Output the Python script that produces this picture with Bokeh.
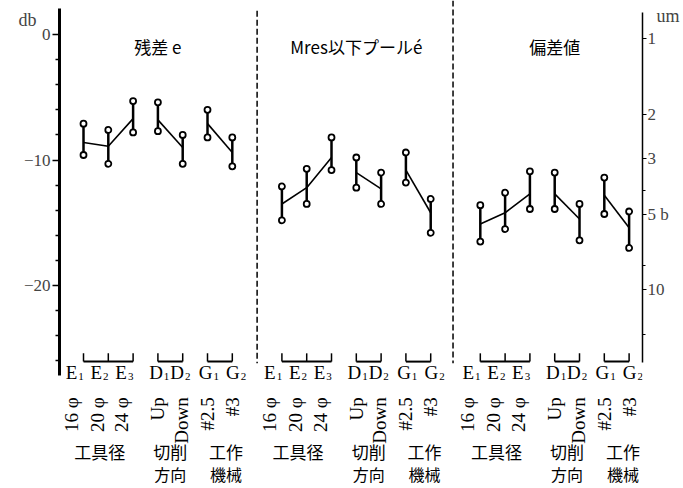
import numpy as np
from bokeh.plotting import figure
from bokeh.models import (Range1d, LogScale, LogAxis, LinearAxis, FixedTicker,
                          BasicTickFormatter)
from bokeh.core.properties import value
from bokeh.embed import file_html
from bokeh.resources import INLINE

# ---------------- data ----------------
panel_titles = ["残差 e", "Mres以下プールé", "偏差値"]
cat_letters = ["E", "E", "E", "D", "D", "G", "G"]
cat_subs = ["1", "2", "3", "1", "2", "1", "2"]
cond_labels = ["16 φ", "20 φ", "24 φ", "Up", "Down", "#2.5", "#3"]
group_members = [[0, 1, 2], [3, 4], [5, 6]]
group_line1 = ["工具径", "切削", "工作"]
group_line2 = ["方向", "機械"]          # second line for groups 2 and 3

# dB values (upper end, lower end, mean) per panel
top_e = [-7.1, -7.6, -5.3, -5.4, -8.0, -6.0, -8.2]
bot_e = [-9.6, -10.3, -7.8, -7.7, -10.3, -8.2, -10.5]
mean_e = [-8.6, -8.9, -6.7, -6.8, -9.0, -7.1, -9.4]

top_pool = [-12.1, -10.7, -8.2, -9.8, -11.0, -9.4, -13.1]
bot_pool = [-14.8, -13.5, -10.8, -12.2, -13.5, -11.8, -15.8]
mean_pool = [-13.5, -12.2, -9.8, -11.0, -12.3, -10.8, -14.2]

top_dev = [-13.6, -12.6, -10.9, -11.0, -13.5, -11.4, -14.1]
bot_dev = [-16.5, -15.5, -13.9, -13.9, -16.4, -14.3, -17.0]
mean_dev = [-15.1, -14.2, -12.7, -12.7, -14.7, -12.8, -15.4]

db_ticks = [0, -10, -20]
db_minor = [-2, -4, -6, -8, -12, -14, -16, -18, -22, -24, -26]
um_ticks = [1, 2, 3, 5, 10]
um_minor = [4, 8, 15]
um_labels = ["1", "2", "3", "5 b", "10"]

tops = [top_e, top_pool, top_dev]
bots = [bot_e, bot_pool, bot_dev]
means = [mean_e, mean_pool, mean_dev]

# ---------------- layout ----------------
W, H = 683, 488
X_START, X_END = -0.968, 22.54
Y_TOP, Y_BOTTOM = 2.71, -36.17
PANEL_STEP = 8
UM_OFFSET = -0.35          # dB = -20 log10(um) + UM_OFFSET
DB_LABEL_Y = 1.12
UM_LABEL_Y = 1.5
letter_shift = [-0.25, -0.25, -0.25, 0.2, 0.05, 0.2, 0.3]
cond_shift = [-0.5, -0.45, -0.45, 0.0, -0.05, 0.0, 0.0]
group_shift = [-0.35, 0.0, 0.25]
SERIF = "Liberation Serif"
CJK = "Noto Sans CJK JP"


def um_of(db):
    return 10 ** ((UM_OFFSET - db) / 20.0)


p = figure(width=W, height=H, output_backend="svg", toolbar_location=None,
           x_range=Range1d(X_START, X_END), y_range=Range1d(Y_BOTTOM, Y_TOP),
           x_axis_location=None, y_axis_location=None,
           min_border_left=59, min_border_right=41,
           min_border_top=0, min_border_bottom=0)
p.grid.visible = False
p.outline_line_color = None
p.background_fill_color = "white"

# left dB axis
yl = LinearAxis(ticker=FixedTicker(ticks=db_ticks, minor_ticks=db_minor),
                bounds=(-27.2, 2.1))
yl.axis_line_width = 3
yl.major_tick_out = 7
yl.major_tick_in = 0
yl.major_tick_line_width = 1.5
yl.minor_tick_out = 4
yl.minor_tick_in = 0
yl.minor_tick_line_width = 1.5
yl.major_label_overrides = {0: "0", -10: "−10", -20: "−20"}
yl.major_label_text_font = SERIF
yl.major_label_text_font_size = "17px"
yl.major_label_standoff = 2
p.add_layout(yl, "left")

# unit caption "db" as an outer label-only axis
yl2 = LinearAxis(ticker=FixedTicker(ticks=[DB_LABEL_Y], minor_ticks=[]))
yl2.axis_line_color = None
yl2.major_tick_line_color = None
yl2.minor_tick_line_color = None
yl2.major_tick_out = 0
yl2.major_label_overrides = {DB_LABEL_Y: "db"}
yl2.major_label_text_font = SERIF
yl2.major_label_text_font_size = "18px"
yl2.major_label_standoff = -16
p.add_layout(yl2, "left")

# right um axis (log)
p.extra_y_ranges = {"um": Range1d(start=um_of(Y_BOTTOM), end=um_of(Y_TOP))}
p.extra_y_scales = {"um": LogScale()}
yr = LogAxis(y_range_name="um",
             ticker=FixedTicker(ticks=um_ticks, minor_ticks=um_minor),
             formatter=BasicTickFormatter(),
             bounds=(um_of(1.75), um_of(-26.1)))
yr.axis_line_width = 1.5
yr.major_tick_out = 4
yr.major_tick_in = 0
yr.minor_tick_out = 3
yr.minor_tick_in = 0
yr.major_label_overrides = dict(zip(um_ticks, um_labels))
yr.major_label_text_font = SERIF
yr.major_label_text_font_size = "17px"
yr.major_label_standoff = 1
p.add_layout(yr, "right")

yr2 = LinearAxis(ticker=FixedTicker(ticks=[UM_LABEL_Y], minor_ticks=[]))
yr2.axis_line_color = None
yr2.major_tick_line_color = None
yr2.minor_tick_line_color = None
yr2.major_tick_out = 0
yr2.major_label_overrides = {UM_LABEL_Y: "um"}
yr2.major_label_text_font = SERIF
yr2.major_label_text_font_size = "18px"
yr2.major_label_standoff = -15
p.add_layout(yr2, "right")

# separators
p.segment(x0=[7.0, 14.9], y0=[1.9, Y_TOP], x1=[7.0, 14.9], y1=[-26.2, -26.2],
          line_color="black", line_width=1.5, line_dash="6 3")

for k in range(3):
    xs = [k * PANEL_STEP + i for i in range(7)]
    # error bars
    p.segment(x0=xs, y0=bots[k], x1=xs, y1=tops[k], line_color="black",
              line_width=2.5)
    # mean lines per group
    mx = [[xs[i] for i in g] for g in group_members]
    my = [[means[k][i] for i in g] for g in group_members]
    p.multi_line(xs=mx, ys=my, line_color="black", line_width=1.6)
    # end circles
    p.scatter(x=xs + xs, y=tops[k] + bots[k], marker="circle", size=6,
              fill_color="white", line_color="black", line_width=1.8)
    # title
    p.text(x=[k * PANEL_STEP + 3.0], y=[-0.95], text=[panel_titles[k]],
           text_font=value(CJK), text_font_size="17px", text_align="center",
           text_baseline="middle", text_color="black")
    # brackets
    bx0 = [xs[g[0]] for g in group_members]
    bx1 = [xs[g[-1]] for g in group_members]
    p.segment(x0=bx0, y0=[-26.06] * 3, x1=bx1, y1=[-26.06] * 3,
              line_color="black", line_width=2)
    p.segment(x0=xs, y0=[-26.06] * 7, x1=xs, y1=[-25.4] * 7,
              line_color="black", line_width=1.5)
    # category letters + subscripts
    lx = [xs[i] + letter_shift[i] for i in range(7)]
    p.text(x=lx, y=[-26.93] * 7, text=cat_letters, text_font=value(SERIF),
           text_font_size="19px", text_align="right",
           text_baseline="middle", text_color="black")
    p.text(x=lx, y=[-26.93] * 7, text=cat_subs, text_font=value(SERIF),
           text_font_size="11px", text_align="left", x_offset=1, y_offset=4,
           text_baseline="middle", text_color="black")
    # rotated condition labels
    cx = [xs[i] + cond_shift[i] for i in range(7)]
    p.text(x=cx, y=[-28.9] * 7, text=cond_labels, angle=np.pi / 2,
           text_font=value(SERIF), text_font_size="19px", text_align="right",
           text_baseline="middle", text_color="black")
    # group labels
    gx = [float(np.mean([xs[i] for i in g])) + group_shift[j]
          for j, g in enumerate(group_members)]
    p.text(x=gx, y=[-33.2] * 3, text=group_line1, text_font=value(CJK),
           text_font_size="17px", text_align="center", text_baseline="middle",
           text_color="black")
    p.text(x=gx[1:], y=[-35.0] * 2, text=group_line2, text_font=value(CJK),
           text_font_size="16px", text_align="center", text_baseline="middle",
           text_color="black")

open("out.html", "w").write(file_html(p, INLINE))
